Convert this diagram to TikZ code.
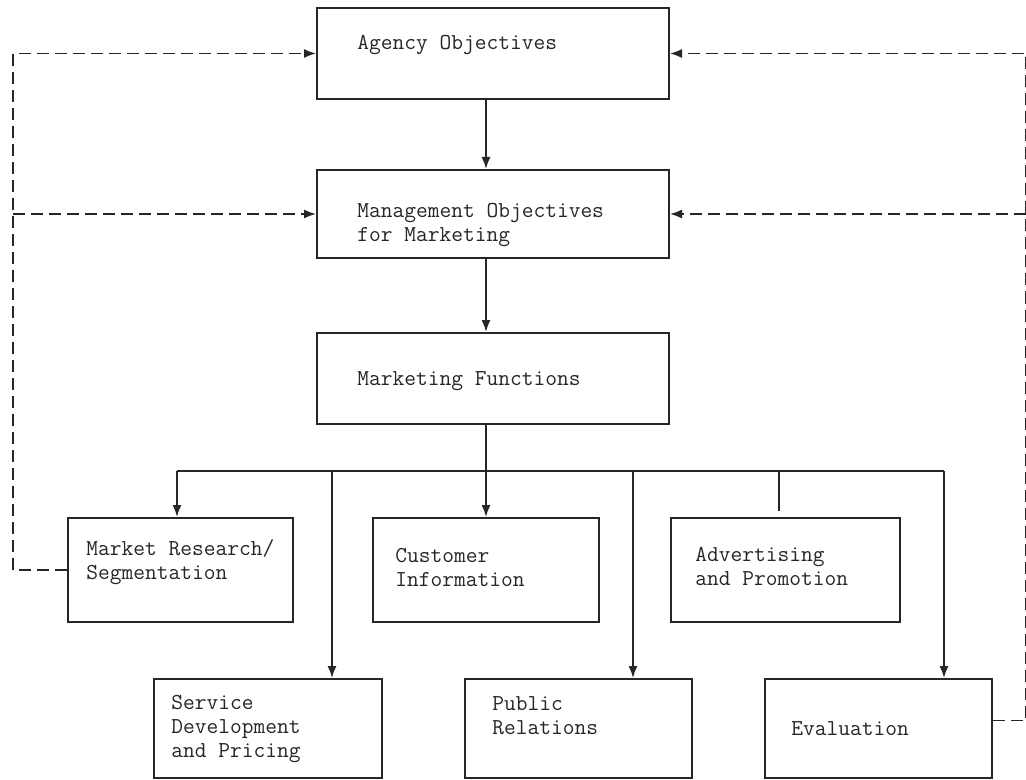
\documentclass[tikz,border=0pt]{standalone}
\usepackage{fontspec}
\usetikzlibrary{positioning,arrows.meta}
\begin{document}
\begin{tikzpicture}[x=0.5pt,y=-0.5pt,color=black!85,
  blk/.style={draw,line width=1pt,inner sep=0pt},
  txt/.style={align=left,inner sep=0pt,font=\ttfamily\fontsize{11.4}{12}\selectfont},
  arr/.style={line width=0.8pt,-{Latex[length=6pt,width=4.5pt]}},
  fb/.style={line width=0.8pt,dash pattern=on 6pt off 3pt,-{Latex[length=6pt,width=4.5pt]}}]
\useasboundingbox (0,0) rectangle (1026,780);

% objectives and functions
\node[blk,minimum width=176pt,minimum height=45.5pt] (agency) at (493,53.5) {};
\node[txt,right=20.5pt of agency.west,yshift=4.25pt] (agencytxt) {Agency Objectives};
\node[blk,minimum width=176pt,minimum height=44pt] (mgmt) at (493,214) {};
\node[txt,right=20.5pt of mgmt.west,yshift=-5.5pt] (mgmttxt) {Management Objectives\\for Marketing};
\node[blk,minimum width=176pt,minimum height=45.5pt] (mf) at (493,378.5) {};
\node[txt,right=20.5pt of mf.west,yshift=-1.25pt] (mftxt) {Marketing Functions};

% first row
\node[blk,minimum width=112.5pt,minimum height=52pt] (mr) at (180.5,570) {};
\node[txt,right=9.5pt of mr.west,yshift=3.75pt] (mrtxt) {Market Research/\\Segmentation};
\node[blk,minimum width=113pt,minimum height=52pt] (cust) at (486,570) {};
\node[txt,right=11.5pt of cust.west,yshift=1.5pt] (custtxt) {Customer\\Information};
\node[blk,minimum width=114.5pt,minimum height=52pt] (adv) at (785.5,570) {};
\node[txt,right=12.5pt of adv.west,yshift=1.75pt] (advtxt) {Advertising\\and Promotion};

% second row
\node[blk,minimum width=114pt,minimum height=49.5pt] (svc) at (268,728.5) {};
\node[txt,right=9pt of svc.west] (svctxt) {Service\\Development\\and Pricing};
\node[blk,minimum width=113.5pt,minimum height=49.5pt] (pub) at (578.5,728.5) {};
\node[txt,right=14pt of pub.west,yshift=6.5pt] (pubtxt) {Public\\Relations};
\node[blk,minimum width=113.5pt,minimum height=49.5pt] (eval) at (878.5,728.5) {};
\node[txt,right=13.5pt of eval.west] (evaltxt) {Evaluation};

% bus
\coordinate (b1) at (177,471);
\coordinate (b2) at (332,471);
\coordinate (spine) at (486,471);
\coordinate (b4) at (633,471);
\coordinate (b5) at (779,471);
\coordinate (b5end) at (779,511);
\coordinate (b6) at (944,471);
\coordinate (lft) at (13,53.5);
\coordinate (rgt) at (1026,53.5);

\draw[arr] (agency.south -| spine) -- (mgmt.north -| spine);
\draw[arr] (mgmt.south -| spine) -- (mf.north -| spine);
\draw[line width=0.8pt] (mf.south -| spine) -- (spine);
\draw[line width=0.8pt] (b1) -- (b6);
\draw[arr] (b1) -- (b1 |- mr.north);
\draw[arr] (b2) -- (b2 |- svc.north);
\draw[arr] (spine) -- (spine |- cust.north);
\draw[arr] (b4) -- (b4 |- pub.north);
\draw[line width=0.8pt] (b5) -- (b5end);
\draw[arr] (b6) -- (b6 |- eval.north);

% feedback
\draw[fb] (mr.west) -| (lft) -- (agency.west);
\draw[fb] (lft |- mgmt.west) -- (mgmt.west);
\draw[fb] ([yshift=4pt]eval.east) -| (rgt) -- (agency.east);
\draw[fb] (rgt |- mgmt.east) -- (mgmt.east);
\end{tikzpicture}
\end{document}
